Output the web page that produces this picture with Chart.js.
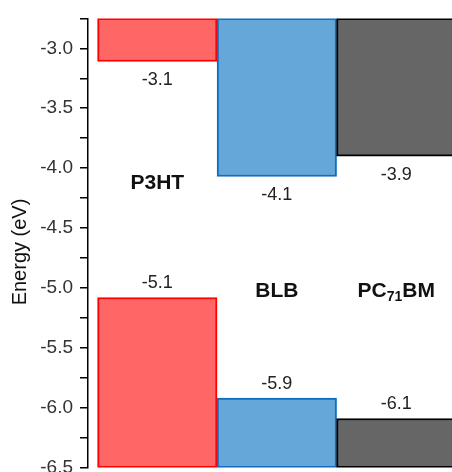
<!DOCTYPE html>
<html>
<head>
<meta charset="utf-8">
<script src="https://cdn.jsdelivr.net/npm/chart.js@4"></script>
<style>
  html, body { margin: 0; padding: 0; background: #fff; overflow: hidden; }
  #wrap { width: 452px; height: 486px; }
</style>
</head>
<body>
<div id="wrap"><canvas id="myChart"></canvas></div>
<script>
const materials = ["P3HT", "BLB", "PC71BM"];
const positions = [1, 2, 3];
const lumo = [-3.11, -4.07, -3.9];
const homo = [-5.08, -5.92, -6.09];
const yTop = -2.75;
const yBottom = -6.5;
const yTitle = "Energy (eV)";

const fills = ["#FF6666", "#64A7D8", "#666666"];
const borders = ["#FF0000", "#0F6EC0", "#000000"];
const fontFamily = '"Liberation Sans", Arial, sans-serif';

Chart.defaults.font.family = fontFamily;
Chart.defaults.color = "#222";

// draws the energy values, the material names and the y title
const levelLabels = {
  id: "levelLabels",
  afterDatasetsDraw(chart) {
    const { ctx, scales: { x, y } } = chart;
    ctx.save();
    ctx.textAlign = "center";
    ctx.textBaseline = "middle";
    ctx.fillStyle = "#222";
    ctx.font = "18px " + fontFamily;
    positions.forEach((p, i) => {
      const px = x.getPixelForValue(p);
      ctx.fillText(lumo[i].toFixed(1), px, y.getPixelForValue(lumo[i]) + 19);
      ctx.fillText(homo[i].toFixed(1), px, y.getPixelForValue(homo[i]) - 14);
    });

    ctx.fillStyle = "#111";
    materials.forEach((name, i) => {
      const px = x.getPixelForValue(positions[i]);
      const py = y.getPixelForValue((lumo[i] + homo[i]) / 2) + 4;
      // split "PC71BM" so the 71 goes subscript
      const parts = name === "PC71BM" ? [["PC", 0], ["71", 1], ["BM", 0]] : [[name, 0]];
      const fontOf = (sub) => (sub ? "bold 14px " : "bold 21px ") + fontFamily;
      let total = 0;
      parts.forEach(([t, sub]) => { ctx.font = fontOf(sub); total += ctx.measureText(t).width; });
      let cx = px - total / 2;
      ctx.textAlign = "left";
      parts.forEach(([t, sub]) => {
        ctx.font = fontOf(sub);
        ctx.fillText(t, cx, py + (sub ? 6 : 0));
        cx += ctx.measureText(t).width;
      });
      ctx.textAlign = "center";
    });

    // axis title, a bit below the middle like the original
    ctx.translate(20, (y.top + y.bottom) / 2 + 9);
    ctx.rotate(-Math.PI / 2);
    ctx.font = "20px " + fontFamily;
    ctx.fillText(yTitle, 0, 0);
    ctx.restore();
  },
};

const ctx = document.getElementById("myChart");

new Chart(ctx, {
  type: "bar",
  data: {
    datasets: [
      {
        label: "LUMO",
        data: positions.map((p, i) => ({ x: p, y: [yTop, lumo[i]] })),
        backgroundColor: fills,
        borderColor: borders,
        borderWidth: 2,
        borderSkipped: false,
        grouped: false,
        barPercentage: 1,
        categoryPercentage: 1,
      },
      {
        label: "HOMO",
        data: positions.map((p, i) => ({ x: p, y: [homo[i], yBottom] })),
        backgroundColor: fills,
        borderColor: borders,
        borderWidth: 2,
        borderSkipped: false,
        grouped: false,
        barPercentage: 1,
        categoryPercentage: 1,
      },
    ],
  },
  options: {
    responsive: true,
    maintainAspectRatio: false,
    animation: false,
    layout: { padding: { top: 16, bottom: 0, left: 0, right: 0 } },
    plugins: { legend: { display: false }, tooltip: { enabled: false } },
    scales: {
      x: {
        type: "linear",
        display: false,
        offset: false,
        min: 0.42,
        max: 3.466,
        // one tick per material so the bars are one unit wide
        afterBuildTicks(scale) { scale.ticks = positions.map((v) => ({ value: v })); },
      },
      y: {
        min: yBottom,
        max: yTop,
        afterFit(scale) { scale.width = 88; },
        border: { display: true, color: "#000", width: 1.5 },
        grid: { drawOnChartArea: false, drawTicks: true, tickLength: 8, color: "#000", lineWidth: 1.5 },
        ticks: {
          stepSize: 0.25,
          padding: 7,
          color: "#333",
          font: { size: 19 },
          callback: (v) => (Math.abs(v * 2 - Math.round(v * 2)) < 1e-6 ? v.toFixed(1) : ""),
        },
      },
    },
  },
  plugins: [levelLabels],
});
</script>
</body>
</html>
